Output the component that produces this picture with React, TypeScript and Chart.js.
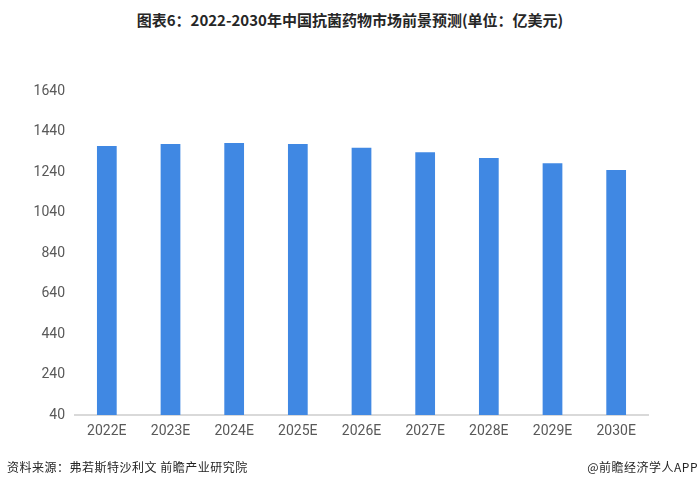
import React, { useEffect, useRef } from "react";
import { Chart, registerables } from "chart.js";

Chart.register(...registerables);

const categories = ["2022E", "2023E", "2024E", "2025E", "2026E", "2027E", "2028E", "2029E", "2030E"];
const marketValues = [1368, 1378, 1383, 1378, 1360, 1337, 1309, 1283, 1250];
const yMin = 40;
const yMax = 1640;
const yStep = 200;

const titleText = "图表6：2022-2030年中国抗菌药物市场前景预测(单位：亿美元)";
const sourceText = "资料来源：弗若斯特沙利文 前瞻产业研究院";
const brandText = "@前瞻经济学人APP";

export default function App() {
  const canvasRef = useRef<HTMLCanvasElement | null>(null);

  useEffect(() => {
    if (!canvasRef.current) return;
    const chart = new Chart(canvasRef.current, {
      type: "bar",
      data: {
        labels: categories,
        datasets: [
          {
            data: marketValues,
            backgroundColor: "#4088E3",
            borderWidth: 0,
            barPercentage: 0.31,
            categoryPercentage: 1,
          },
        ],
      },
      options: {
        responsive: false,
        animation: false,
        layout: { padding: { left: 0, right: 52, top: 91, bottom: 0 } },
        plugins: { legend: { display: false }, title: { display: false }, tooltip: { enabled: false } },
        scales: {
          x: {
            grid: { display: false, drawTicks: false },
            border: { display: true, color: "#D9D9D9", width: 2 },
            ticks: { color: "#595959", font: { family: "Roboto, 'Noto Sans', sans-serif", size: 14 }, padding: 8 },
            afterFit: (s: any) => { s.height = 72; },
          },
          y: {
            min: yMin,
            max: yMax,
            grid: { display: false, drawTicks: false },
            border: { display: false },
            ticks: {
              stepSize: yStep,
              color: "#595959",
              font: { family: "Roboto, 'Noto Sans', sans-serif", size: 14 },
              padding: 10,
              callback: (v: any) => String(v),
            },
            afterFit: (s: any) => { s.width = 75; },
          },
        },
      },
    });
    return () => chart.destroy();
  }, []);

  return (
    <div style={{ position: "fixed", left: 0, top: 0, width: 700, height: 487, background: "#fff", overflow: "hidden" }}>
      <div
        style={{
          position: "absolute", top: 9, left: 0, width: 700, textAlign: "center",
          fontFamily: "'Liberation Sans Narrow', 'Noto Sans CJK SC', sans-serif", fontWeight: "bold", fontSize: 15, color: "#262626",
          lineHeight: "22px",
        }}
      >
        {titleText}
      </div>
      <canvas ref={canvasRef} width={700} height={487} style={{ position: "absolute", left: 0, top: 0 }} />
      <div
        style={{
          position: "absolute", top: 458, left: 7, fontFamily: "'Noto Sans CJK SC', sans-serif", fontSize: 12,
          color: "#262626", letterSpacing: 0.5, lineHeight: "18px",
        }}
      >
        {sourceText}
      </div>
      <div
        style={{
          position: "absolute", top: 458, right: 2, fontFamily: "'Noto Sans CJK SC', sans-serif", fontSize: 12,
          color: "#262626", letterSpacing: 0.5, lineHeight: "18px",
        }}
      >
        {brandText}
      </div>
    </div>
  );
}
